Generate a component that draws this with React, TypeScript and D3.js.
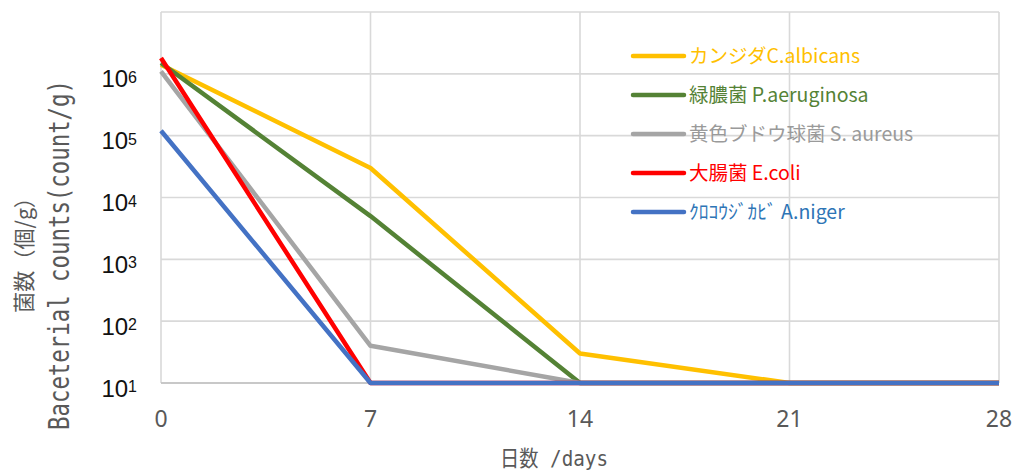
import React from "react";
import * as d3 from "d3";

const days = [0, 7, 14, 21, 28];
const seriesNames = [
  "カンジダC.albicans",
  "緑膿菌 P.aeruginosa",
  "黄色ブドウ球菌 S. aureus",
  "大腸菌 E.coli",
  "ｸﾛｺｳｼﾞｶﾋﾞ A.niger",
];
const candida = [1.4e6, 3e4, 30, 10, 10];
const pseudomonas = [1.5e6, 5000, 10, 10, 10];
const staph = [1.1e6, 40, 10, 10, 10];
const ecoli = [1.8e6, 10, 10, 10, 10];
const aniger = [1.2e5, 10, 10, 10, 10];
const seriesValues = [candida, pseudomonas, staph, ecoli, aniger];
const lineColors = ["#FFC000", "#548235", "#A5A5A5", "#FF0000", "#4472C4"];
const textColors = ["#FFC000", "#548235", "#9A9A9A", "#FF0000", "#2E75B6"];
const yTicks = [10, 100, 1000, 1e4, 1e5, 1e6, 1e7];
const xTitle = "日数 /days";
const yTitle1 = "菌数（個/g）";
const yTitle2 = "Baceterial counts(count/g)";

const W = 1015;
const H = 470;
const font = "'Noto Sans CJK JP', 'Noto Sans', sans-serif";
const sansFont = "'Noto Sans', 'Noto Sans CJK JP', sans-serif";
const tickFont = "'Liberation Sans', Arial, sans-serif";
const monoFont = "'DejaVu Sans Mono', 'Noto Sans CJK JP', monospace";

export default function App() {
  const x = d3.scaleLinear().domain([0, 28]).range([161, 999]);
  const y = d3.scaleLog().domain([10, 1e7]).range([383, 12]);
  const line = d3
    .line<number>()
    .x((_, i) => x(days[i]))
    .y((d) => y(d));

  return (
    <svg width={W} height={H} style={{ position: "absolute", left: 0, top: 0 }}>
      <rect width={W} height={H} fill="#fff" />
      {yTicks.map((t) => (
        <line key={"h" + t} x1={x(0)} x2={x(28)} y1={y(t)} y2={y(t)} stroke="#d9d9d9" strokeWidth={1.6} />
      ))}
      {days.map((d) => (
        <line key={"v" + d} x1={x(d)} x2={x(d)} y1={y(1e7)} y2={y(10)} stroke="#d9d9d9" strokeWidth={1.6} />
      ))}
      <line x1={x(0)} x2={x(28)} y1={y(10)} y2={y(10)} stroke="#bfbfbf" strokeWidth={1.6} />
      {seriesValues.map((vals, i) => (
        <path key={i} d={line(vals) || ""} fill="none" stroke={lineColors[i]} strokeWidth={4.5} strokeLinejoin="round" />
      ))}
      {yTicks.slice(0, 6).map((t) => (
        <text key={"yt" + t} x={137} y={y(t) + 13.5} textAnchor="end" fontFamily={tickFont} fill="#111" fontSize={24}>
          10
          <tspan fontSize={16} dy={-4.5}>{Math.round(Math.log10(t))}</tspan>
        </text>
      ))}
      {days.map((d) => (
        <text key={"xt" + d} x={x(d)} y={427} textAnchor="middle" fontFamily={sansFont} fill="#595959" fontSize={23}>
          {d}
        </text>
      ))}
      <text x={500} y={466} fontFamily={monoFont} fill="#595959" fontSize={22} textLength={108} lengthAdjust="spacingAndGlyphs">
        {xTitle}
      </text>
      <text transform="translate(32,250) rotate(-90)" textAnchor="middle" fontFamily={font} fill="#595959" fontSize={22} textLength={126} lengthAdjust="spacingAndGlyphs">
        {yTitle1}
      </text>
      <text transform="translate(69,255) rotate(-90)" textAnchor="middle" fontFamily={monoFont} fill="#595959" fontSize={29} textLength={350} lengthAdjust="spacingAndGlyphs">
        {yTitle2}
      </text>
      {seriesNames.map((n, i) => {
        const ly = 56 + i * 39;
        return (
          <g key={"lg" + i}>
            <line x1={633} x2={684} y1={ly} y2={ly} stroke={lineColors[i]} strokeWidth={4.5} strokeLinecap="round" />
            <text x={689} y={ly + 7} fontFamily={font} fill={textColors[i]} fontSize={19.5}>
              {n}
            </text>
          </g>
        );
      })}
    </svg>
  );
}
